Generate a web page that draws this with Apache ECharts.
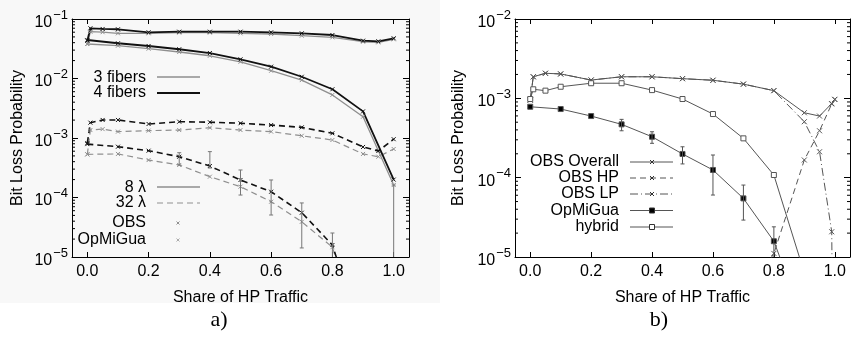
<!DOCTYPE html>
<html>
<head>
<meta charset="utf-8">
<script src="https://cdn.jsdelivr.net/npm/echarts@6/dist/echarts.min.js"></script>
<style>
html, body { margin: 0; padding: 0; background: #fff; }
#wrap { position: relative; width: 851px; height: 337px; }
#shade { position: absolute; left: 0; top: 0; width: 440px; height: 303px; background: #f8f8f8; }
#chart { position: absolute; left: 0; top: 0; width: 851px; height: 337px; }
</style>
</head>
<body>
<div id="wrap"><div id="shade"></div><div id="chart"></div></div>
<script>
/************************   data   ************************/

var xTicks = [0, 0.2, 0.4, 0.6, 0.8, 1.0];

// a) x positions
var xObs = [0, 0.01, 0.05, 0.1, 0.2, 0.3, 0.4, 0.5, 0.6, 0.7, 0.8, 0.9, 0.95, 1.0];
var xOpm = [0, 0.1, 0.2, 0.3, 0.4, 0.5, 0.6, 0.7, 0.8, 0.9, 1.0];

// OBS, 8 lambda (solid)
var obs8_4f = [0.0432, 0.0698, 0.068, 0.0672, 0.0598, 0.0612, 0.0612, 0.0612, 0.0598, 0.0575, 0.0538, 0.0432, 0.0422, 0.0474];
var obs8_3f = [0.038, 0.0612, 0.06, 0.0575, 0.0575, 0.059, 0.059, 0.0575, 0.056, 0.0524, 0.0492, 0.0415, 0.0405, 0.0456];
// OBS, 32 lambda (dashed)
var obs32_4f = [8.2e-4, 1.81e-3, 2.01e-3, 2.01e-3, 1.72e-3, 1.88e-3, 1.84e-3, 1.77e-3, 1.65e-3, 1.51e-3, 1.2e-3, 7.07e-4, 6.05e-4, 9.55e-4];
var obs32_3f = [5.3e-4, 1.36e-3, 1.41e-3, 1.28e-3, 1.33e-3, 1.36e-3, 1.49e-3, 1.36e-3, 1.28e-3, 1.09e-3, 9.25e-4, 5.4e-4, 4.85e-4, 6.53e-4];
// OpMiGua, 8 lambda
var opm8_4f = [0.0444, 0.0391, 0.0352, 0.031, 0.0268, 0.021, 0.0158, 0.0107, 0.0066, 0.0028, 2.0e-4];
var opm8_3f = [0.038, 0.0356, 0.0317, 0.0279, 0.0241, 0.0191, 0.0135, 0.0094, 0.0053, 0.00228, 1.62e-4];
// OpMiGua, 32 lambda
var opm32_4f = [7.9e-4, 7.14e-4, 6.12e-4, 4.85e-4, 3.38e-4, 1.97e-4, 1.25e-4, 5.55e-5, 1.59e-5, 4e-7, null];
var opm32_3f = [5.32e-4, 5.4e-4, 4.26e-4, 3.52e-4, 2.24e-4, 1.52e-4, 8.5e-5, 3.9e-5, 1.46e-5, 3e-7, null];
// error bars [x, low, high]
var errA = [[0.3, 3.52e-4, 5.66e-4], [0.4, 3.13e-4, 5.9e-4], [0.5, 1.1e-4, 2.9e-4], [0.6, 5.08e-5, 1.97e-4],
            [0.7, 1.42e-5, 8.1e-5], [0.8, 8.3e-6, 2.53e-5], [1.0, 1e-7, 1.62e-4]];

// b)
var xR = [0, 0.01, 0.05, 0.1, 0.2, 0.3, 0.4, 0.5, 0.6, 0.7, 0.8, 0.9, 0.95, 0.99, 1.0];
var obsOverall = [9.5e-4, 1.87e-3, 2.07e-3, 2.03e-3, 1.7e-3, 1.87e-3, 1.87e-3, 1.77e-3, 1.69e-3, 1.51e-3, 1.25e-3, 6.58e-4, 5.98e-4, 8.6e-4, 9.7e-4];
var obsHP = [null, null, null, null, null, null, null, null, null, 2.7e-6, 1.11e-5, 1.67e-4, 3.9e-4, 8.5e-4, 9.7e-4];
var obsLP = [9.5e-4, 1.87e-3, 2.07e-3, 2.03e-3, 1.7e-3, 1.87e-3, 1.87e-3, 1.77e-3, 1.69e-3, 1.51e-3, 1.25e-3, 5.07e-4, 2.12e-4, 2.08e-5, 1e-9];
var xOpmB = [0, 0.1, 0.2, 0.3, 0.4, 0.5, 0.6, 0.7, 0.8, 0.9];
var opmB = [7.83e-4, 7.33e-4, 5.98e-4, 4.7e-4, 3.28e-4, 1.99e-4, 1.25e-4, 5.48e-5, 1.58e-5, 1.5e-6];
var xHyb = [0, 0.01, 0.05, 0.1, 0.2, 0.3, 0.4, 0.5, 0.6, 0.7, 0.8, 0.9];
var hybrid = [9.8e-4, 1.3e-3, 1.25e-3, 1.4e-3, 1.55e-3, 1.55e-3, 1.27e-3, 9.8e-4, 6.34e-4, 3.13e-4, 1.08e-4, 6.3e-6];
var errB = [[0.3, 3.9e-4, 5.43e-4], [0.4, 2.71e-4, 3.79e-4], [0.5, 1.49e-4, 2.45e-4], [0.6, 6.04e-5, 1.93e-4],
            [0.7, 2.92e-5, 8.07e-5], [0.8, 8.7e-6, 2.4e-5]];

/************************   helpers   ************************/

function pairs(xs, ys) {
    var out = [];
    for (var i = 0; i < xs.length; i++) {
        if (ys[i] != null) out.push([xs[i], ys[i]]);
    }
    return out;
}

function minorTicks(lo, hi) {
    var t = [];
    for (var e = lo; e < hi; e++) {
        for (var m = 2; m <= 9; m++) t.push([0, m * Math.pow(10, e)]);
    }
    return t;
}

var FONT = '"Liberation Sans", Arial, sans-serif';
var X_SYM = 'path://M0,0L10,10M10,0L0,10';
var BLACK = '#111';
var GRAY = '#8f8f8f';
var DARK = '#555';

function yLabel(v) {
    var e = Math.round(Math.log10(v));
    return '{b|10}{s|\u2212' + (-e) + '}';
}

var yRich = {
    b: { fontSize: 16, fontFamily: FONT, color: '#000', padding: [7, 0, 0, 0], verticalAlign: 'bottom' },
    s: { fontSize: 13, fontFamily: FONT, color: '#000', padding: [0, 0, 9, 1], verticalAlign: 'bottom' }
};

function xAxisDef(grid, pos, labels) {
    return {
        type: 'value', gridIndex: grid, position: pos, min: -0.05, max: 1.05,
        axisLine: { show: true, onZero: false, lineStyle: { color: '#000', width: 1 } },
        axisTick: { show: true, inside: true, length: 5, customValues: xTicks, lineStyle: { color: '#000' } },
        axisLabel: {
            show: labels, customValues: xTicks, margin: 7, color: '#000', fontSize: 16, fontFamily: FONT,
            formatter: function (v) { return v.toFixed(1); }
        },
        splitLine: { show: false },
        name: labels ? 'Share of HP Traffic' : '', nameLocation: 'middle', nameGap: 33,
        nameTextStyle: { fontSize: 16, fontFamily: FONT, color: '#000' }
    };
}

function yAxisDef(grid, pos, labels, min, max, gap) {
    return {
        type: 'log', logBase: 10, gridIndex: grid, position: pos, min: min, max: max,
        axisLine: { show: true, onZero: false, lineStyle: { color: '#000', width: 1 } },
        axisTick: { show: true, inside: true, length: 6, lineStyle: { color: '#000' } },
        axisLabel: { show: labels, margin: 4, formatter: yLabel, rich: yRich },
        splitLine: { show: false },
        name: labels ? 'Bit Loss Probability' : '', nameLocation: 'middle', nameGap: gap,
        nameTextStyle: { fontSize: 16, fontFamily: FONT, color: '#000' }
    };
}

function lineSeries(name, xi, yi, data, color, width, dash, symbol, symSize, fill) {
    return {
        name: name, type: 'line', xAxisIndex: xi, yAxisIndex: yi, data: data,
        symbol: symbol, symbolSize: symSize, showSymbol: true, clip: true, silent: true,
        lineStyle: { color: color, width: width, type: dash },
        itemStyle: { color: fill, borderColor: color, borderWidth: 1 },
        z: 3
    };
}

function minorTickSeries(xi, yi, data) {
    return {
        type: 'custom', xAxisIndex: xi, yAxisIndex: yi, data: data, silent: true,
        renderItem: function (params, api) {
            var cs = params.coordSys;
            var y = api.coord([api.value(0), api.value(1)])[1];
            var st = { stroke: '#000', lineWidth: 1 };
            return {
                type: 'group', children: [
                    { type: 'line', shape: { x1: cs.x, y1: y, x2: cs.x + 3, y2: y }, style: st },
                    { type: 'line', shape: { x1: cs.x + cs.width - 3, y1: y, x2: cs.x + cs.width, y2: y }, style: st }
                ]
            };
        }
    };
}

function errorSeries(xi, yi, data, color) {
    return {
        type: 'custom', xAxisIndex: xi, yAxisIndex: yi, data: data, silent: true,
        encode: { x: 0, y: [1, 2] },
        renderItem: function (params, api) {
            var cs = params.coordSys;
            var top = api.coord([api.value(0), api.value(2)]);
            var bot = api.coord([api.value(0), api.value(1)]);
            var x = top[0];
            var y1 = Math.max(top[1], cs.y), y2 = Math.min(bot[1], cs.y + cs.height);
            var st = { stroke: color, lineWidth: 1 };
            var ch = [{ type: 'line', shape: { x1: x, y1: y1, x2: x, y2: y2 }, style: st }];
            if (top[1] >= cs.y) ch.push({ type: 'line', shape: { x1: x - 2, y1: top[1], x2: x + 2, y2: top[1] }, style: st });
            if (bot[1] <= cs.y + cs.height) ch.push({ type: 'line', shape: { x1: x - 2, y1: bot[1], x2: x + 2, y2: bot[1] }, style: st });
            return { type: 'group', children: ch };
        },
        z: 4
    };
}

function txt(s, x, y, size, fam, align) {
    return { type: 'text', x: x, y: y, silent: true,
        style: { text: s, font: size + 'px ' + fam, fill: '#000', align: align || 'right', verticalAlign: 'middle' } };
}
function seg(x1, x2, y, color, w, dash) {
    return { type: 'line', silent: true, shape: { x1: x1, y1: y, x2: x2, y2: y },
        style: { stroke: color, lineWidth: w, lineDash: dash || null } };
}
function cross(x, y, color, r) {
    return { type: 'group', silent: true, children: [
        { type: 'line', shape: { x1: x - r, y1: y - r, x2: x + r, y2: y + r }, style: { stroke: color, lineWidth: 1 } },
        { type: 'line', shape: { x1: x - r, y1: y + r, x2: x + r, y2: y - r }, style: { stroke: color, lineWidth: 1 } }
    ] };
}
function square(x, y, r, fill) {
    return { type: 'rect', silent: true, shape: { x: x - r, y: y - r, width: 2 * r, height: 2 * r },
        style: { fill: fill, stroke: '#333', lineWidth: 1 } };
}

/************************   chart   ************************/

var dom = document.getElementById('chart');
var myChart = echarts.init(dom, null, { renderer: 'canvas' });

var DASH = [6, 4];
var DASHDOT = [8, 3, 1, 3];

var legendA = [
    txt('3 fibers', 146, 78, 16, FONT), seg(157, 200, 77, GRAY, 1.4),
    txt('4 fibers', 146, 93, 16, FONT), seg(157, 200, 93, BLACK, 2),
    txt('8 \u03bb', 146, 188, 16, FONT), seg(157, 200, 187, GRAY, 1.4),
    txt('32 \u03bb', 146, 203, 16, FONT), seg(157, 200, 203, GRAY, 1.2, DASH),
    txt('OBS', 146, 223, 16, FONT), cross(178, 223, GRAY, 1.5),
    txt('OpMiGua', 146, 240, 16, FONT), cross(178, 240, '#aaa', 1.5)
];
var legendB = [
    txt('OBS Overall', 619, 162, 16, FONT), seg(630, 673, 162, DARK, 1), cross(652, 162, '#333', 2),
    txt('OBS HP', 619, 178, 16, FONT), seg(630, 673, 178, DARK, 1, DASH), cross(652, 178, '#333', 2),
    txt('OBS LP', 619, 194, 16, FONT), seg(630, 673, 194, DARK, 1, DASHDOT), cross(652, 194, '#333', 2),
    txt('OpMiGua', 619, 210.5, 16, FONT), seg(630, 673, 210.5, DARK, 1), square(652, 210.5, 2.5, '#000'),
    txt('hybrid', 619, 227, 16, FONT), seg(630, 673, 227, DARK, 1), square(652, 227, 2.5, '#fff')
];
var captions = [
    txt('a)', 219, 320, 22, '"Liberation Serif", serif', 'center'),
    txt('b)', 659, 320, 22, '"Liberation Serif", serif', 'center')
];

var option = {
    backgroundColor: 'transparent',
    animation: false,
    grid: [
        { left: 72, top: 19, width: 337, height: 238 },
        { left: 515, top: 19, width: 335, height: 238 }
    ],
    xAxis: [
        xAxisDef(0, 'bottom', true), xAxisDef(0, 'top', false),
        xAxisDef(1, 'bottom', true), xAxisDef(1, 'top', false)
    ],
    yAxis: [
        yAxisDef(0, 'left', true, 1e-5, 1e-1, 46), yAxisDef(0, 'right', false, 1e-5, 1e-1, 0),
        yAxisDef(1, 'left', true, 1e-5, 1e-2, 48), yAxisDef(1, 'right', false, 1e-5, 1e-2, 0)
    ],
    graphic: { elements: legendA.concat(legendB, captions) },
    series: [
        minorTickSeries(0, 0, minorTicks(-5, -1)),
        minorTickSeries(2, 2, minorTicks(-5, -2)),

        // a) 3 fibers (gray) first, 4 fibers (black) on top
        lineSeries('OBS 8 3f', 0, 0, pairs(xObs, obs8_3f), GRAY, 1.3, 'solid', X_SYM, 4, GRAY),
        lineSeries('OpMiGua 8 3f', 0, 0, pairs(xOpm, opm8_3f), GRAY, 1.3, 'solid', X_SYM, 4, GRAY),
        lineSeries('OBS 32 3f', 0, 0, pairs(xObs, obs32_3f), GRAY, 1.2, DASH, X_SYM, 4, GRAY),
        lineSeries('OpMiGua 32 3f', 0, 0, pairs(xOpm, opm32_3f), GRAY, 1.2, DASH, X_SYM, 4, GRAY),
        lineSeries('OBS 8 4f', 0, 0, pairs(xObs, obs8_4f), BLACK, 1.8, 'solid', X_SYM, 4, BLACK),
        lineSeries('OpMiGua 8 4f', 0, 0, pairs(xOpm, opm8_4f), BLACK, 1.8, 'solid', X_SYM, 4, BLACK),
        lineSeries('OBS 32 4f', 0, 0, pairs(xObs, obs32_4f), BLACK, 1.6, DASH, X_SYM, 4, BLACK),
        lineSeries('OpMiGua 32 4f', 0, 0, pairs(xOpm, opm32_4f), BLACK, 1.6, DASH, X_SYM, 4, BLACK),
        errorSeries(0, 0, errA, '#777'),

        // b)
        lineSeries('OBS Overall', 2, 2, pairs(xR, obsOverall), DARK, 1, 'solid', X_SYM, 5, '#333'),
        lineSeries('OBS HP', 2, 2, pairs(xR, obsHP), DARK, 1, DASH, X_SYM, 5, '#333'),
        lineSeries('OBS LP', 2, 2, pairs(xR, obsLP), DARK, 1, DASHDOT, X_SYM, 5, '#333'),
        lineSeries('OpMiGua', 2, 2, pairs(xOpmB, opmB), DARK, 1, 'solid', 'rect', 5, '#000'),
        lineSeries('hybrid', 2, 2, pairs(xHyb, hybrid), DARK, 1, 'solid', 'rect', 5, '#fff'),
        errorSeries(2, 2, errB, '#555')
    ]
};

myChart.setOption(option);
</script>
</body>
</html>
